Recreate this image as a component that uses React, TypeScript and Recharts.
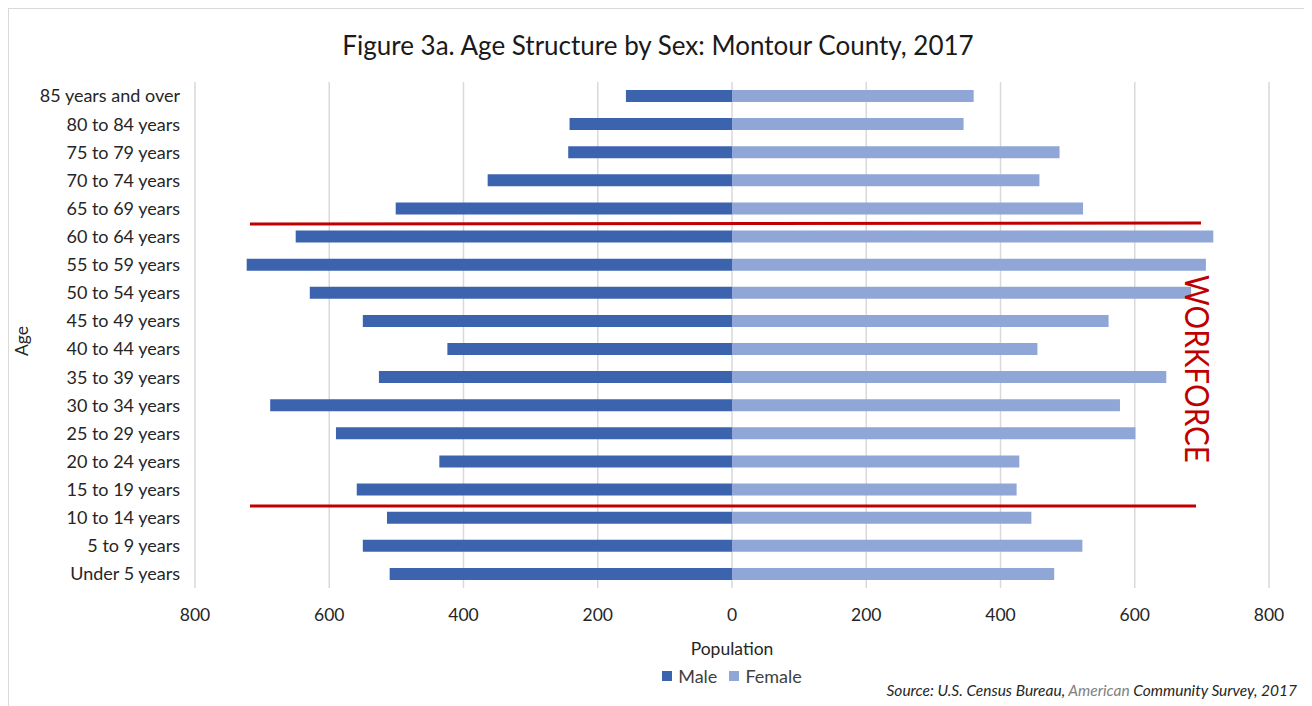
import React from "react";
import {
  BarChart,
  Bar,
  XAxis,
  YAxis,
  CartesianGrid,
  Legend,
} from "recharts";

// Age groups, listed top to bottom as in the figure
const ageGroups = [
  "85 years and over",
  "80 to 84 years",
  "75 to 79 years",
  "70 to 74 years",
  "65 to 69 years",
  "60 to 64 years",
  "55 to 59 years",
  "50 to 54 years",
  "45 to 49 years",
  "40 to 44 years",
  "35 to 39 years",
  "30 to 34 years",
  "25 to 29 years",
  "20 to 24 years",
  "15 to 19 years",
  "10 to 14 years",
  "5 to 9 years",
  "Under 5 years",
];

const maleValues = [
  158, 242, 244, 364, 501, 650, 723, 629, 550, 424, 526, 688, 590, 436, 559,
  514, 550, 510,
];

const femaleValues = [
  360, 345, 488, 458, 523, 717, 706, 684, 561, 455, 647, 578, 601, 428, 424,
  446, 522, 480,
];

const xTicks = [-800, -600, -400, -200, 0, 200, 400, 600, 800];

const FONT = "Lato, 'Open Sans', sans-serif";
const MALE = "#3C64AE";
const FEMALE = "#8FA6D6";
const RED = "#C00000";
const TEXT = "#262626";

const data = ageGroups.map((age, i) => ({
  age,
  male: -maleValues[i],
  female: femaleValues[i],
}));

function LegendContent() {
  const items = [
    { label: "Male", color: MALE },
    { label: "Female", color: FEMALE },
  ];
  return (
    <div style={{ display: "flex", justifyContent: "center", gap: 12 }}>
      {items.map((it) => (
        <div key={it.label} style={{ display: "flex", alignItems: "center" }}>
          <span
            style={{
              width: 10,
              height: 10,
              background: it.color,
              display: "inline-block",
              marginRight: 6,
            }}
          />
          <span style={{ fontSize: 18, color: "#404040", fontFamily: FONT }}>
            {it.label}
          </span>
        </div>
      ))}
    </div>
  );
}

export default function App() {
  return (
    <div
      style={{
        position: "relative",
        width: 1300,
        height: 700,
        border: "1px solid #d9d9d9",
        boxSizing: "border-box",
        background: "#fff",
        fontFamily: FONT,
      }}
    >
      <div
        style={{
          position: "absolute",
          top: 20,
          left: 0,
          width: "100%",
          textAlign: "center",
          fontSize: 26,
          color: "#1a1a1a",
        }}
      >
        Figure 3a. Age Structure by Sex: Montour County, 2017
      </div>
      <BarChart
        width={1298}
        height={690}
        data={data}
        layout="vertical"
        barSize={12}
        stackOffset="sign"
        margin={{ top: 73, right: 38, left: 0, bottom: 34 }}
        style={{ position: "absolute", left: 0, top: 0 }}
      >
        <CartesianGrid horizontal={false} stroke="#d9d9d9" strokeWidth={1.5} />
        <XAxis
          type="number"
          domain={[-800, 800]}
          ticks={xTicks}
          tickFormatter={(v: number) => String(Math.abs(v))}
          axisLine={false}
          tickLine={false}
          tickMargin={15}
          tick={{ fontSize: 17.5, fill: TEXT, fontFamily: FONT }}
          label={{
            value: "Population",
            position: "insideBottom",
            offset: -12,
            fontSize: 17.5,
            fill: TEXT,
            fontFamily: FONT,
          }}
          height={55}
        />
        <YAxis
          type="category"
          dataKey="age"
          width={186}
          axisLine={false}
          tickLine={false}
          tickMargin={9}
          interval={0}
          tick={{ fontSize: 18, fill: TEXT, fontFamily: FONT }}
        />
        <Legend
          content={<LegendContent />}
          wrapperStyle={{ top: 656, left: 186, width: 1074 }}
        />
        <Bar
          dataKey="male"
          name="Male"
          stackId="a"
          fill={MALE}
          isAnimationActive={false}
        />
        <Bar
          dataKey="female"
          name="Female"
          stackId="a"
          fill={FEMALE}
          isAnimationActive={false}
        />
      </BarChart>
      {/* annotations: axis title, workforce band */}
      <svg
        width={1298}
        height={698}
        style={{ position: "absolute", left: 0, top: 0, pointerEvents: "none" }}
      >
        <text
          x={12}
          y={332}
          transform="rotate(-90 12 332)"
          textAnchor="middle"
          dominantBaseline="central"
          fontSize={17.5}
          fill={TEXT}
          fontFamily={FONT}
        >
          Age
        </text>
        <line x1={241} y1={215} x2={1192} y2={214} stroke={RED} strokeWidth={3} />
        <line x1={241} y1={497} x2={1187} y2={497} stroke={RED} strokeWidth={3} />
        <text
          x={1188}
          y={266}
          transform="rotate(90 1188 266)"
          fontSize={32}
          fill={RED}
          fontFamily={FONT}
          textLength={188}
          lengthAdjust="spacingAndGlyphs"
          dominantBaseline="central"
        >
          WORKFORCE
        </text>
      </svg>
      <div
        style={{
          position: "absolute",
          right: 10,
          top: 672,
          fontSize: 15.5,
          fontStyle: "italic",
          color: TEXT,
        }}
      >
        Source: U.S. Census Bureau,{" "}
        <span style={{ color: "#7f7f7f" }}>American</span> Community Survey,
        2017
      </div>
    </div>
  );
}
